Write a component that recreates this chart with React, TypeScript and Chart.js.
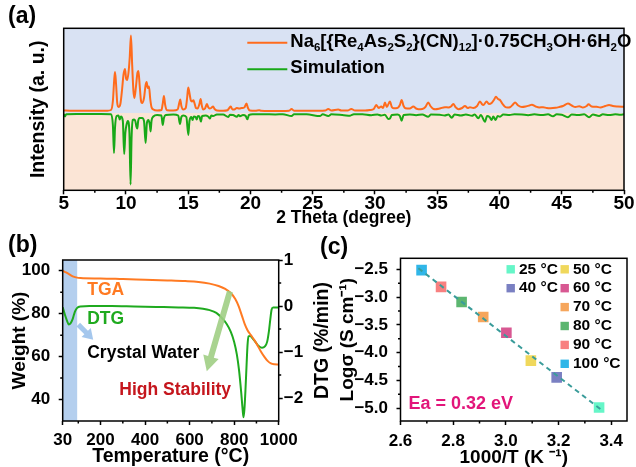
import React, { useEffect, useRef } from "react";
import { Chart, registerables } from "chart.js";

Chart.register(...registerables);

const FONT = "'Liberation Sans', Arial, Helvetica, sans-serif";
const W = 636;
const H = 467;

// ---------------- (a) PXRD ----------------
const xrdExperiment: number[][] = [
  [5.0, 2.5], [5.5, 2.3], [6.5, 2.2], [7.5, 2.2], [8.5, 2.3], [8.8, 3], [8.95, 12], [9.05, 32], [9.12, 41], [9.2, 30],
  [9.3, 10], [9.4, 6], [9.55, 9], [9.7, 25], [9.8, 38], [9.92, 44], [10.02, 34], [10.1, 33], [10.2, 40], [10.3, 55],
  [10.4, 77.5], [10.5, 48], [10.6, 22], [10.68, 15], [10.8, 26], [10.92, 40], [11.0, 42], [11.1, 28], [11.2, 13], [11.3, 10],
  [11.45, 15], [11.58, 28], [11.66, 31], [11.75, 25], [11.85, 26.5], [11.95, 14], [12.05, 6], [12.2, 3.5], [12.5, 2.5], [12.85, 3],
  [12.95, 9], [13.05, 17], [13.15, 8], [13.3, 2.8], [13.8, 2.5], [14.15, 3.5], [14.28, 10], [14.36, 13.5], [14.45, 7], [14.6, 3.5],
  [14.8, 5], [14.92, 16], [15.0, 25.5], [15.1, 20], [15.2, 13], [15.3, 11.5], [15.42, 12.8], [15.5, 10], [15.62, 5], [15.75, 4.5],
  [15.9, 9], [16.0, 14], [16.1, 7], [16.2, 3.5], [16.35, 4.5], [16.5, 9], [16.6, 6], [16.72, 4.5], [16.85, 5], [17.0, 6.5],
  [17.12, 4], [17.3, 2.5], [17.8, 2.3], [18.15, 2.8], [18.3, 5], [18.42, 6.5], [18.55, 3.5], [18.7, 3.5], [18.9, 5], [19.1, 4.5],
  [19.3, 5], [19.5, 5.5], [19.68, 9.5], [19.8, 5], [19.95, 2.5], [20.4, 2.2], [20.7, 2.8], [20.85, 2.2], [21.5, 2], [22.5, 2],
  [23.1, 2.3], [23.3, 4], [23.5, 2.3], [24.5, 2.3], [25.5, 2.3], [26.0, 2.5], [26.25, 4], [26.5, 2.5], [27.05, 3.5], [27.3, 2.5],
  [27.8, 2.5], [28.1, 4], [28.4, 2.5], [29.2, 2.5], [29.6, 3], [29.9, 4], [30.1, 8], [30.3, 5], [30.5, 6.5], [30.65, 5],
  [30.8, 10.5], [30.95, 6], [31.2, 11.5], [31.35, 6], [31.5, 4.8], [31.8, 5], [32.0, 8], [32.14, 13], [32.3, 7], [32.45, 4.8],
  [32.8, 4.5], [33.08, 6.5], [33.3, 4.5], [33.5, 3.8], [33.8, 4], [34.05, 6], [34.28, 10.5], [34.45, 7], [34.7, 4], [34.85, 3.8],
  [35.2, 4.5], [35.62, 5.8], [35.9, 5.5], [36.1, 6.5], [36.29, 9], [36.5, 5.5], [36.7, 3.8], [37.0, 5], [37.23, 7], [37.45, 5],
  [37.63, 5.8], [37.9, 5], [38.2, 7], [38.43, 11.5], [38.58, 9], [38.7, 8], [38.97, 11.5], [39.15, 9], [39.37, 10], [39.55, 13],
  [39.72, 16.3], [39.88, 14], [40.04, 13], [40.25, 9], [40.44, 6.3], [40.65, 5.5], [40.84, 5.8], [41.05, 8], [41.25, 10.5], [41.5, 7.5],
  [41.8, 6], [42.1, 6.5], [42.4, 7.5], [42.6, 8.3], [42.9, 6.5], [43.2, 5.5], [43.5, 5.8], [43.8, 5], [44.1, 4.8], [44.5, 5.2],
  [44.8, 6], [45.1, 7], [45.5, 9.5], [45.8, 7.5], [46.1, 6], [46.4, 6.8], [46.7, 5.5], [47.0, 7], [47.15, 8.8], [47.4, 6.5],
  [47.8, 6.2], [48.1, 5.5], [48.5, 7], [48.8, 8], [49.1, 7], [49.5, 6.5], [50.0, 6.2],
];

const xrdSimulation: number[][] = [
  [5.0, -1], [5.1, -3.5], [5.2, -1.2], [6, -1], [7, -1], [8, -1], [8.8, -1.2], [8.95, -12], [9.04, -40], [9.12, -15],
  [9.25, -3], [9.4, -2.5], [9.5, -6.5], [9.6, -3.5], [9.75, -8], [9.86, -41], [9.95, -20], [10.05, -11.5], [10.15, -8], [10.28, -20],
  [10.37, -71.5], [10.45, -25], [10.55, -7], [10.65, -6.5], [10.75, -8], [10.85, -14], [10.91, -15.5], [10.98, -8], [11.1, -5], [11.3, -5],
  [11.45, -8], [11.58, -30], [11.68, -10], [11.8, -7], [11.92, -12], [11.98, -18.5], [12.05, -8], [12.2, -3.5], [12.5, -2], [12.85, -2.5],
  [12.95, -12], [13.05, -5], [13.2, -2], [13.8, -1.5], [14.2, -2.5], [14.34, -11], [14.45, -4], [14.6, -2.5], [14.85, -4], [15.01, -22],
  [15.1, -8], [15.25, -4], [15.35, -7], [15.45, -3.5], [15.6, -4], [15.68, -6.5], [15.78, -3], [15.9, -3.5], [16.02, -8.5], [16.12, -3],
  [16.4, -2.5], [16.6, -3.5], [16.75, -5.5], [16.85, -2.5], [17.0, -3], [17.3, -1.5], [17.8, -1.5], [18.22, -4], [18.35, -1.8], [18.6, -2],
  [18.9, -3.7], [19.05, -2], [19.16, -3.2], [19.4, -2], [19.62, -3], [19.75, -6.3], [19.88, -2], [20.2, -1.3], [21, -1.2], [22, -1.5],
  [22.6, -1.2], [23.3, -3], [23.5, -1.2], [24.5, -1.3], [25.6, -3], [25.8, -1.3], [26.25, -3], [26.5, -1.3], [27.5, -2.2], [28.0, -2.7],
  [28.3, -1.3], [29.0, -1.2], [29.7, -2.2], [30.2, -1.5], [30.5, -2.5], [30.8, -1.8], [31.07, -6], [31.2, -5.5], [31.35, -2], [31.8, -1.5],
  [32.0, -3], [32.14, -7.7], [32.3, -2], [32.8, -1.5], [33.3, -2.2], [33.8, -1.5], [34.28, -3.7], [34.5, -1.5], [35.2, -1.8], [35.6, -2.5],
  [35.9, -1.5], [36.16, -4.7], [36.4, -1.5], [36.9, -2.5], [37.3, -1.5], [37.8, -2.8], [38.0, -1.5], [38.3, -5.3], [38.5, -2], [38.84, -8.7],
  [39.0, -3], [39.2, -4], [39.37, -7], [39.5, -3.5], [39.69, -7], [39.85, -3], [40.04, -3.7], [40.3, -1.5], [40.8, -2], [41.2, -1.2],
  [41.8, -1.5], [42.3, -2.2], [42.8, -1.3], [43.4, -2], [43.9, -1.3], [44.3, -3.3], [44.6, -1.3], [45.0, -1.8], [45.5, -4.3], [45.8, -1.5],
  [46.3, -2], [46.8, -1.3], [47.2, -4.3], [47.5, -1.5], [48.0, -3], [48.3, -1.3], [48.8, -2], [49.3, -1.3], [49.7, -1.8], [50, -1.2],
];

const xrdTicks = [5, 10, 15, 20, 25, 30, 35, 40, 45, 50];
const xrdMinorTicks = [7.5, 12.5, 17.5, 22.5, 27.5, 32.5, 37.5, 42.5, 47.5];
const xrdLegendFormula: [string, boolean][] = [
  ["Na", false], ["6", true], ["[{Re", false], ["4", true], ["As", false], ["2", true], ["S", false], ["2", true],
  ["}(CN)", false], ["12", true], ["]·0.75CH", false], ["3", true], ["OH·6H", false], ["2", true], ["O", false],
];
const xrdLegendSim = "Simulation";

// ---------------- (b) TGA / DTG ----------------
const tgaCurve: number[][] = [
  [30, 100], [45, 99.2], [60, 98.3], [75, 97.4], [90, 96.9], [110, 96.6], [200, 96.4], [300, 96.1], [400, 95.8], [500, 95.5],
  [580, 95.2], [640, 94.8], [690, 94.0], [730, 92.9], [760, 91.5], [785, 89.6], [805, 86.8], [820, 83.5], [835, 79.0], [848, 75.0],
  [860, 72.3], [875, 70.0], [890, 67.8], [905, 65.2], [920, 62.4], [935, 60.0], [950, 58.0], [965, 56.8], [980, 56.4], [1000, 56.3],
];
const dtgCurve: number[][] = [
  [30, -0.03], [40, -0.19], [50, -0.33], [57, -0.4], [65, -0.38], [75, -0.28], [85, -0.12], [95, -0.04], [110, -0.01], [150, 0.0],
  [250, 0.0], [350, -0.01], [450, -0.02], [550, -0.03], [620, -0.04], [660, -0.06], [690, -0.09], [720, -0.15], [745, -0.26], [765, -0.38],
  [785, -0.56], [800, -0.78], [812, -1.05], [822, -1.4], [832, -1.9], [838, -2.25], [842, -2.42], [846, -2.25], [851, -1.8], [856, -1.25],
  [860, -0.85], [865, -0.66], [872, -0.65], [882, -0.7], [895, -0.78], [910, -0.87], [925, -0.91], [938, -0.88], [948, -0.78], [956, -0.55],
  [962, -0.3], [968, -0.08], [975, -0.03], [1000, -0.03],
];
const tempTicks = [30, 200, 400, 600, 800, 1000];
const tempMinorTicks = [100, 300, 500, 700, 900];
const weightTicks = [40, 60, 80, 100];
const weightMinorTicks = [50, 70, 90];
const dtgTicks = [1, 0, -1, -2];
const dtgMinorTicks = [0.5, -0.5, -1.5];
const waterRegion = [30, 95];
const labelsB = [
  { text: "TGA", x: 140, y: 91.0, color: "#ff7a22" },
  { text: "DTG", x: 140, y: 77.5, color: "#1faa1f" },
  { text: "Crystal Water", x: 140, y: 61.8, color: "#000000" },
  { text: "High Stability", x: 284, y: 44.5, color: "#c5161d" },
];
const arrowsB = [
  { x1: 100, y1: 74.9, x2: 167, y2: 67.9, color: "rgba(160,196,236,0.95)", shaft: 5, head: 13, headLen: 10 },
  { x1: 781, y1: 90.4, x2: 677, y2: 53.2, color: "rgba(160,206,132,0.9)", shaft: 6, head: 16, headLen: 15 },
];

// ---------------- (c) Arrhenius ----------------
const tempLabels = ["25 °C", "40 °C", "50 °C", "60 °C", "70 °C", "80 °C", "90 °C", "100 °C"];
const invT = [3.354, 3.193, 3.095, 3.002, 2.914, 2.832, 2.754, 2.68];
const logSigma = [-4.988, -4.445, -4.142, -3.641, -3.358, -3.086, -2.814, -2.512];
const pointColors = [
  "rgb(102,246,200)", "rgb(122,128,194)", "rgb(240,216,92)", "rgb(216,88,146)",
  "rgb(246,166,92)", "rgb(92,182,112)", "rgb(248,128,128)", "rgb(48,182,232)",
];
const fitLine: number[][] = [[2.668, -2.48], [3.36, -5.02]];
const invTTicks = [2.6, 2.8, 3.0, 3.2, 3.4];
const invTMinorTicks = [2.7, 2.9, 3.1, 3.3];
const sigmaTicks = [-2.5, -3.0, -3.5, -4.0, -4.5, -5.0];
const sigmaMinorTicks = [-2.75, -3.25, -3.75, -4.25, -4.75];
const eaText = "Ea = 0.32 eV";

// ---------------- helpers ----------------
const f = (size: number) => ({ family: FONT, size, weight: "bold" as const, lineHeight: 1 });
const fixedTicks = (vals: number[]) => (s: any) => {
  s.ticks = vals.map((v) => ({ value: v }));
};
const minus = (s: string) => s.replace("-", "−");
const pts = (arr: number[][]) => arr.map(([x, y]) => ({ x, y }));

function drawFrame(chart: any) {
  const { ctx, chartArea: a } = chart;
  ctx.save();
  ctx.strokeStyle = "#000";
  ctx.lineWidth = 1.5;
  ctx.strokeRect(a.left, a.top, a.right - a.left, a.bottom - a.top);
  ctx.restore();
}

function drawMinor(chart: any, id: string, vals: number[], len: number) {
  const s = chart.scales[id];
  const { ctx, chartArea: a } = chart;
  ctx.save();
  ctx.strokeStyle = "#000";
  ctx.lineWidth = 1.5;
  ctx.beginPath();
  vals.forEach((v) => {
    const p = s.getPixelForValue(v);
    if (s.position === "bottom") {
      ctx.moveTo(p, a.bottom);
      ctx.lineTo(p, a.bottom + len);
    } else if (s.position === "left") {
      ctx.moveTo(a.left, p);
      ctx.lineTo(a.left - len, p);
    } else {
      ctx.moveTo(a.right, p);
      ctx.lineTo(a.right + len, p);
    }
  });
  ctx.stroke();
  ctx.restore();
}

function text(ctx: any, t: string, x: number, y: number, size: number, color = "#000", align = "left") {
  ctx.save();
  ctx.font = `bold ${size}px ${FONT}`;
  ctx.fillStyle = color;
  ctx.textAlign = align;
  ctx.textBaseline = "middle";
  ctx.fillText(t, x, y);
  ctx.restore();
}

function drawRich(ctx: any, parts: [string, boolean][], x: number, y: number, size: number, sub: number) {
  ctx.save();
  ctx.fillStyle = "#000";
  ctx.textBaseline = "middle";
  ctx.textAlign = "left";
  let cx = x;
  for (const [t, isSub] of parts) {
    ctx.font = `bold ${isSub ? sub : size}px ${FONT}`;
    ctx.fillText(t, cx, isSub ? y + size * 0.33 : y);
    cx += ctx.measureText(t).width;
  }
  ctx.restore();
}

function drawArrow(ctx: any, x1: number, y1: number, x2: number, y2: number, color: string, shaft: number, head: number, headLen: number) {
  const ang = Math.atan2(y2 - y1, x2 - x1);
  const len = Math.hypot(x2 - x1, y2 - y1);
  ctx.save();
  ctx.translate(x1, y1);
  ctx.rotate(ang);
  ctx.fillStyle = color;
  ctx.beginPath();
  ctx.moveTo(0, -shaft / 2);
  ctx.lineTo(len - headLen, -shaft / 2);
  ctx.lineTo(len - headLen, -head / 2);
  ctx.lineTo(len, 0);
  ctx.lineTo(len - headLen, head / 2);
  ctx.lineTo(len - headLen, shaft / 2);
  ctx.lineTo(0, shaft / 2);
  ctx.closePath();
  ctx.fill();
  ctx.restore();
}

const noLegend = { legend: { display: false }, tooltip: { enabled: false } };

// ---------------- configs ----------------
function configA(): any {
  return {
    type: "line",
    data: {
      datasets: [
        { data: pts(xrdExperiment), borderColor: "#ff6b1c", borderWidth: 2, pointRadius: 0, cubicInterpolationMode: "monotone", fill: false },
        { data: pts(xrdSimulation), borderColor: "#18a818", borderWidth: 2, pointRadius: 0, cubicInterpolationMode: "monotone", fill: false },
      ],
    },
    options: {
      animation: false,
      responsive: false,
      layout: { padding: { left: 0, right: 12, top: 28.3, bottom: 240.5 } },
      plugins: noLegend,
      scales: {
        x: {
          type: "linear", min: 5, max: 50,
          afterBuildTicks: fixedTicks(xrdTicks),
          ticks: { font: f(19), color: "#000", padding: 0, autoSkip: false, maxRotation: 0, callback: (v: any) => String(v) },
          grid: { display: true, drawOnChartArea: false, tickLength: 4, tickWidth: 1.5, tickColor: "#000" },
          border: { display: false },
          title: { display: true, text: "2 Theta (degree)", color: "#000", font: f(17.5), padding: { top: 0, bottom: 0 } },
          afterFit: (s: any) => { s.height = 36.2; },
        },
        y: {
          type: "linear", min: -77.3, max: 84.7,
          ticks: { display: false },
          grid: { display: false },
          border: { display: false },
          title: { display: true, text: "Intensity (a. u.)", color: "#000", font: f(19.5), padding: { top: 28.5, bottom: 0 } },
          afterFit: (s: any) => { s.width = 63.7; },
        },
      },
    },
    plugins: [
      {
        id: "panelA",
        beforeDatasetsDraw(chart: any) {
          const { ctx, chartArea: a } = chart;
          const y0 = chart.scales.y.getPixelForValue(0);
          ctx.save();
          ctx.fillStyle = "#d9e2f3";
          ctx.fillRect(a.left, a.top, a.right - a.left, y0 - a.top);
          ctx.fillStyle = "#fbe5d6";
          ctx.fillRect(a.left, y0, a.right - a.left, a.bottom - y0);
          ctx.restore();
        },
        afterDraw(chart: any) {
          const { ctx, chartArea: a } = chart;
          drawFrame(chart);
          drawMinor(chart, "x", xrdMinorTicks, 2.5);
          // legend
          const lx = a.left + 183.6;
          const rows = [a.top + 14.4, a.top + 41];
          ctx.save();
          ctx.lineWidth = 2;
          ctx.strokeStyle = "#ff6b1c";
          ctx.beginPath(); ctx.moveTo(lx, rows[0]); ctx.lineTo(lx + 40, rows[0]); ctx.stroke();
          ctx.strokeStyle = "#18a818";
          ctx.beginPath(); ctx.moveTo(lx, rows[1]); ctx.lineTo(lx + 40, rows[1]); ctx.stroke();
          ctx.restore();
          drawRich(ctx, xrdLegendFormula, lx + 43, rows[0] - 1, 18.5, 11.5);
          text(ctx, xrdLegendSim, lx + 43, rows[1] - 1, 18.5);
          text(ctx, "(a)", 8, 17, 23);
        },
      },
    ],
  };
}

function configB(): any {
  return {
    type: "line",
    data: {
      datasets: [
        { data: pts(tgaCurve), yAxisID: "y", borderColor: "#ff7a22", borderWidth: 2, pointRadius: 0, cubicInterpolationMode: "monotone", fill: false },
        { data: pts(dtgCurve), yAxisID: "y1", borderColor: "#1faa1f", borderWidth: 2, pointRadius: 0, cubicInterpolationMode: "monotone", fill: false },
      ],
    },
    options: {
      animation: false,
      responsive: false,
      layout: { padding: { left: 0, right: W - 278.7 - 40, top: 260, bottom: 0.2 } },
      plugins: noLegend,
      scales: {
        x: {
          type: "linear", min: 30, max: 1000,
          afterBuildTicks: fixedTicks(tempTicks),
          ticks: { font: f(17), color: "#000", padding: 6.5, autoSkip: false, maxRotation: 0, callback: (v: any) => String(v) },
          grid: { display: true, drawOnChartArea: false, tickLength: 4, tickWidth: 1.5, tickColor: "#000" },
          border: { display: false },
          title: { display: true, text: "Temperature (°C)", color: "#000", font: f(19.5), padding: { top: 0, bottom: 0 } },
          afterFit: (s: any) => { s.height = 45.8; },
        },
        y: {
          type: "linear", position: "left", min: 30, max: 105,
          afterBuildTicks: fixedTicks(weightTicks),
          ticks: { font: f(17), color: "#000", padding: 8.5, autoSkip: false, callback: (v: any) => String(v) },
          grid: { display: true, drawOnChartArea: false, tickLength: 4, tickWidth: 1.5, tickColor: "#000" },
          border: { display: false },
          title: { display: true, text: "Weight (%)", color: "#000", font: f(19), padding: { top: 10.2, bottom: 0 } },
          afterFit: (s: any) => { s.width = 62.7; },
        },
        y1: {
          type: "linear", position: "right", min: -2.5, max: 1,
          afterBuildTicks: fixedTicks(dtgTicks),
          ticks: { font: f(17), color: "#000", padding: 1, autoSkip: false, callback: (v: any) => minus(String(v)) },
          grid: { display: true, drawOnChartArea: false, tickLength: 4, tickWidth: 1.5, tickColor: "#000" },
          border: { display: false },
          title: { display: false },
          afterFit: (s: any) => { s.width = 40; },
        },
      },
    },
    plugins: [
      {
        id: "panelB",
        beforeDatasetsDraw(chart: any) {
          const { ctx, chartArea: a, scales } = chart;
          const x0 = scales.x.getPixelForValue(waterRegion[0]);
          const x1 = scales.x.getPixelForValue(waterRegion[1]);
          ctx.save();
          ctx.fillStyle = "#b4cfee";
          ctx.fillRect(x0, a.top, x1 - x0, a.bottom - a.top);
          ctx.restore();
        },
        afterDatasetsDraw(chart: any) {
          const { ctx, scales } = chart;
          arrowsB.forEach((ar) => {
            drawArrow(
              ctx,
              scales.x.getPixelForValue(ar.x1), scales.y.getPixelForValue(ar.y1),
              scales.x.getPixelForValue(ar.x2), scales.y.getPixelForValue(ar.y2),
              ar.color, ar.shaft, ar.head, ar.headLen,
            );
          });
          labelsB.forEach((l) => {
            text(ctx, l.text, scales.x.getPixelForValue(l.x), scales.y.getPixelForValue(l.y), 17.5, l.color);
          });
        },
        afterDraw(chart: any) {
          const { ctx, chartArea: a } = chart;
          drawFrame(chart);
          drawMinor(chart, "x", tempMinorTicks, 2.5);
          drawMinor(chart, "y", weightMinorTicks, 2.5);
          drawMinor(chart, "y1", dtgMinorTicks, 2.5);
          ctx.save();
          ctx.translate(a.right + 43.5, (a.top + a.bottom) / 2);
          ctx.rotate(-Math.PI / 2);
          text(ctx, "DTG (%/min)", 0, 0, 19.5, "#000", "center");
          ctx.restore();
          text(ctx, "(b)", 8, 246, 23);
        },
      },
    ],
  };
}

function configC(): any {
  return {
    type: "scatter",
    data: {
      datasets: [
        { data: pts(fitLine), showLine: true, borderColor: "#3a9c9a", borderWidth: 2, borderDash: [5, 4], pointRadius: 0, fill: false },
        {
          data: invT.map((x, i) => ({ x, y: logSigma[i] })),
          pointStyle: "rect", pointRadius: 7.5, pointBorderWidth: 0,
          pointBackgroundColor: pointColors, backgroundColor: pointColors, borderColor: pointColors,
        },
      ],
    },
    options: {
      animation: false,
      responsive: false,
      layout: { padding: { left: 330.5, right: 9, top: 258.3, bottom: 0.2 } },
      plugins: noLegend,
      scales: {
        x: {
          type: "linear", min: 2.6, max: 3.46,
          afterBuildTicks: fixedTicks(invTTicks),
          ticks: { font: f(17), color: "#000", padding: 7.5, autoSkip: false, maxRotation: 0, callback: (v: any) => Number(v).toFixed(1) },
          grid: { display: true, drawOnChartArea: false, tickLength: 4, tickWidth: 1.5, tickColor: "#000" },
          border: { display: false },
          title: { display: true, text: "1000/T (K ⁻¹)", color: "#000", font: f(19), padding: { top: 0, bottom: 0 } },
          afterFit: (s: any) => { s.height = 45.8; },
        },
        y: {
          type: "linear", min: -5.23, max: -2.3,
          afterBuildTicks: fixedTicks(sigmaTicks),
          ticks: { font: f(17), color: "#000", padding: 8.5, autoSkip: false, callback: (v: any) => minus(Number(v).toFixed(1)) },
          grid: { display: true, drawOnChartArea: false, tickLength: 4, tickWidth: 1.5, tickColor: "#000" },
          border: { display: false },
          title: { display: true, text: "Logσ (S cm⁻¹)", color: "#000", font: f(19), padding: { top: 8, bottom: 0 } },
          afterFit: (s: any) => { s.width = 70; },
        },
      },
    },
    plugins: [
      {
        id: "panelC",
        afterDraw(chart: any) {
          const { ctx, chartArea: a } = chart;
          drawFrame(chart);
          drawMinor(chart, "x", invTMinorTicks, 2.5);
          drawMinor(chart, "y", sigmaMinorTicks, 2.5);
          // legend: two columns
          const colX = [a.right - 116.3, a.right - 62.3];
          tempLabels.forEach((lab, i) => {
            const col = i < 2 ? 0 : 1;
            const row = i < 2 ? i : i - 2;
            const cx = colX[col];
            const cy = a.top + 11 + row * 18.9;
            ctx.save();
            ctx.fillStyle = pointColors[i];
            ctx.fillRect(cx - 4.2, cy - 4.2, 8.4, 8.4);
            ctx.restore();
            text(ctx, lab, cx + 8.3, cy, 15.5);
          });
          text(ctx, eaText, a.left + 8, a.bottom - 17.3, 18, "#e2157a");
          text(ctx, "(c)", 320, 248, 23);
        },
      },
    ],
  };
}

export default function App() {
  const ra = useRef<HTMLCanvasElement>(null);
  const rb = useRef<HTMLCanvasElement>(null);
  const rc = useRef<HTMLCanvasElement>(null);

  useEffect(() => {
    Chart.defaults.font.family = FONT;
    Chart.defaults.color = "#000";
    const charts = [
      new Chart(ra.current as HTMLCanvasElement, configA()),
      new Chart(rb.current as HTMLCanvasElement, configB()),
      new Chart(rc.current as HTMLCanvasElement, configC()),
    ];
    return () => charts.forEach((c) => c.destroy());
  }, []);

  const st: React.CSSProperties = { position: "absolute", left: 0, top: 0, width: W, height: H };
  return (
    <div style={{ position: "absolute", left: 0, top: 0, width: W, height: H, background: "#fff", overflow: "hidden" }}>
      <canvas ref={ra} width={W} height={H} style={st} />
      <canvas ref={rb} width={W} height={H} style={st} />
      <canvas ref={rc} width={W} height={H} style={st} />
    </div>
  );
}
